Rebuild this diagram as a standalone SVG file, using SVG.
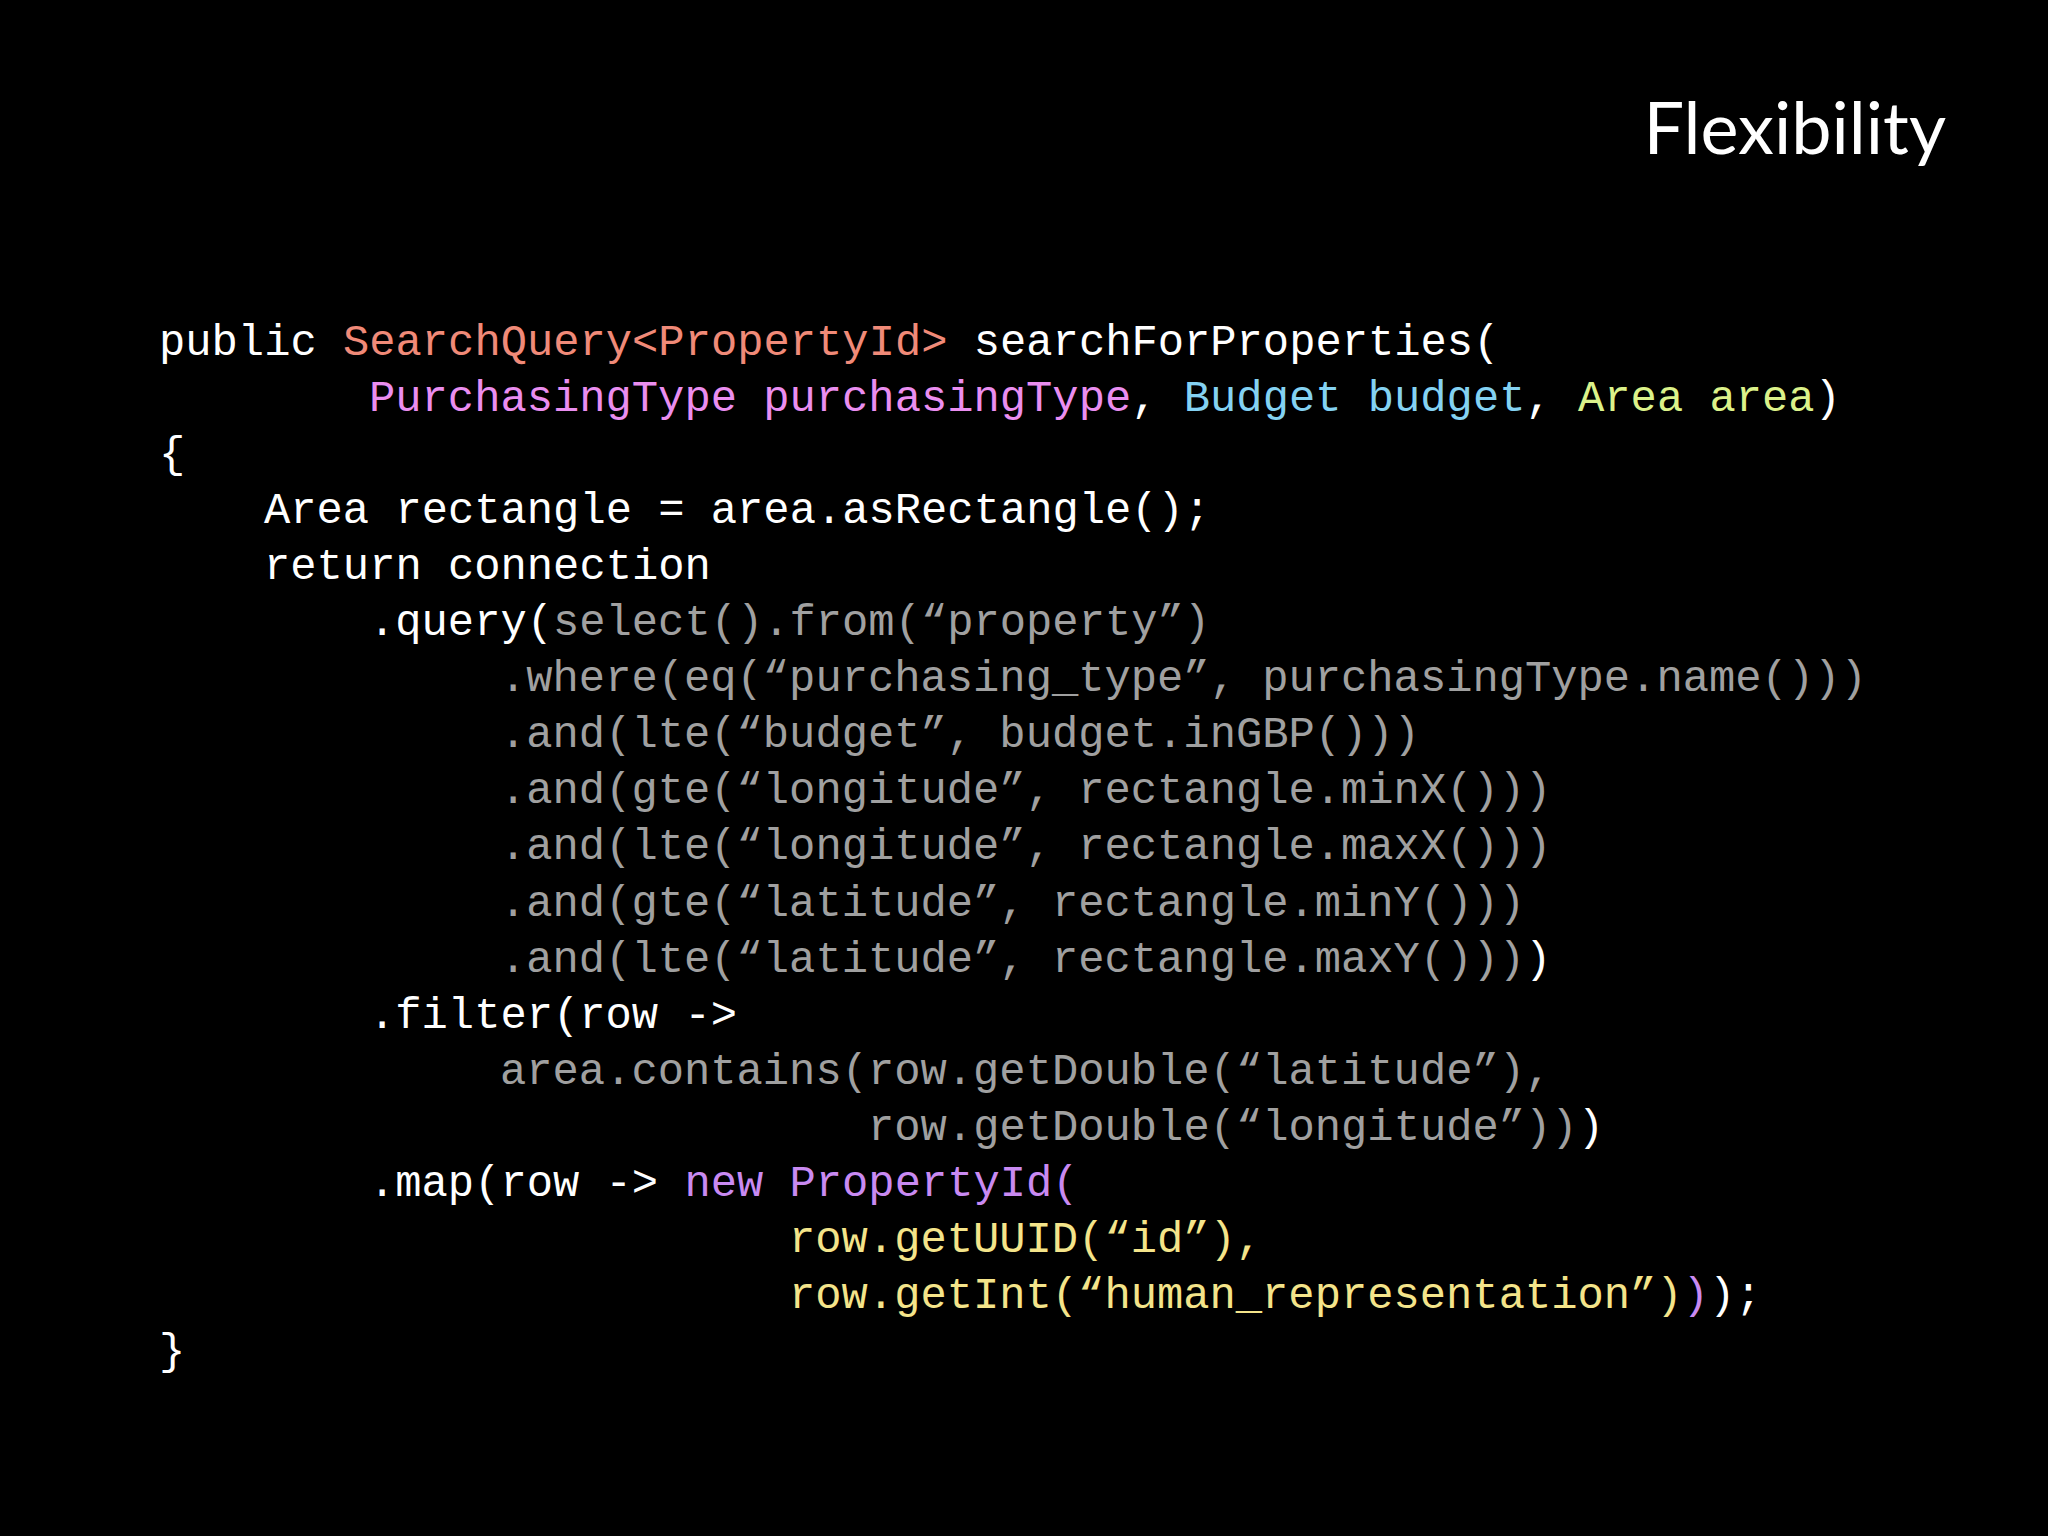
<svg xmlns="http://www.w3.org/2000/svg" width="2048" height="1536" viewBox="0 0 2048 1536">
<style>
.c{font-family:"Liberation Mono","DejaVu Sans Mono",monospace;font-size:43.8px;fill:#ffffff;white-space:pre}
.g{fill:#a0a0a0}.s{fill:#f08a78}.p{fill:#ea8ef0}.b{fill:#84d2f2}.a{fill:#dcf28a}.v{fill:#c98af2}.y{fill:#f4e48a}
</style>
<rect width="2048" height="1536" fill="#000"/>
<text x="1946" y="154" text-anchor="end" font-family="Lato, 'Open Sans', sans-serif" font-size="72" fill="#fff">Flexibility</text>
<g id="code" xml:space="preserve">
<text class="c" x="159" y="355">public <tspan class="s">SearchQuery&lt;PropertyId&gt;</tspan> searchForProperties(</text>
<text class="c" x="369" y="411"><tspan class="p">PurchasingType purchasingType</tspan>, <tspan class="b">Budget budget</tspan>, <tspan class="a">Area area</tspan>)</text>
<text class="c" x="159" y="467">{</text>
<text class="c" x="264" y="523">Area rectangle = area.asRectangle();</text>
<text class="c" x="264" y="579">return connection</text>
<text class="c" x="369" y="635">.query(<tspan class="g">select().from(“property”)</tspan></text>
<text class="c g" x="500" y="691">.where(eq(“purchasing_type”, purchasingType.name()))</text>
<text class="c g" x="500" y="747">.and(lte(“budget”, budget.inGBP()))</text>
<text class="c g" x="500" y="803">.and(gte(“longitude”, rectangle.minX()))</text>
<text class="c g" x="500" y="859">.and(lte(“longitude”, rectangle.maxX()))</text>
<text class="c g" x="500" y="916">.and(gte(“latitude”, rectangle.minY()))</text>
<text class="c" x="500" y="972"><tspan class="g">.and(lte(“latitude”, rectangle.maxY()))</tspan>)</text>
<text class="c" x="369" y="1028">.filter(row -&gt;</text>
<text class="c g" x="500" y="1084">area.contains(row.getDouble(“latitude”),</text>
<text class="c" x="868" y="1140"><tspan class="g">row.getDouble(“longitude”))</tspan>)</text>
<text class="c" x="369" y="1196">.map(row -&gt; <tspan class="v">new PropertyId(</tspan></text>
<text class="c y" x="789" y="1252">row.getUUID(“id”),</text>
<text class="c" x="789" y="1308"><tspan class="y">row.getInt(“human_representation”)</tspan><tspan class="v">)</tspan>);</text>
<text class="c" x="159" y="1364">}</text>
</g>
</svg>
